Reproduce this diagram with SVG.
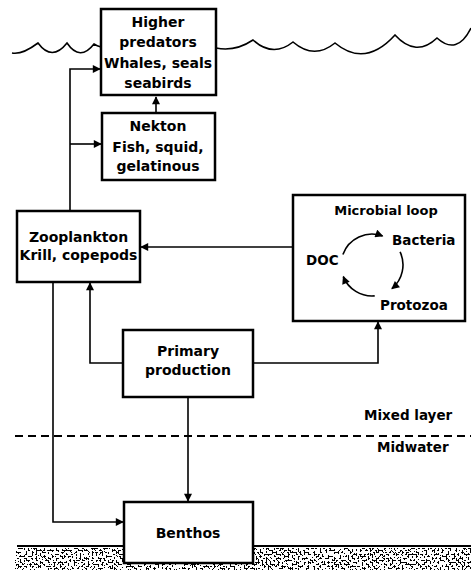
<svg xmlns="http://www.w3.org/2000/svg" width="471" height="570" viewBox="0 0 471 570">
<style>
.box{fill:#fff;stroke:#000;stroke-width:2.5}
.ln{fill:none;stroke:#000;stroke-width:1.6}
.t{font-family:"DejaVu Sans","Liberation Sans",sans-serif;font-weight:bold;font-size:14px;fill:#000;text-anchor:middle}
.s{font-family:"DejaVu Sans","Liberation Sans",sans-serif;font-weight:bold;font-size:13.5px;fill:#000}
</style>
<defs>
<marker id="ah" viewBox="0 0 10 10" refX="9" refY="5" markerWidth="9" markerHeight="8" markerUnits="userSpaceOnUse" orient="auto">
<path d="M0,0 L10,5 L0,10 z" fill="#000"/>
</marker>
<filter id="sand" x="0" y="0" width="1" height="1" filterUnits="objectBoundingBox" color-interpolation-filters="sRGB">
<feTurbulence type="fractalNoise" baseFrequency="0.5" numOctaves="2" seed="7" result="n"/>
<feColorMatrix in="n" type="matrix" values="0 0 0 0 0  0 0 0 0 0  0 0 0 0 0  -4 0 0 0 2.35" result="a"/>
<feComponentTransfer in="a" result="b"><feFuncA type="discrete" tableValues="0 1"/></feComponentTransfer>
<feComposite in="b" in2="SourceAlpha" operator="in"/>
</filter>
</defs>
<rect width="471" height="570" fill="#fff"/>

<g id="surface">
<path class="ln" d="M12,53 Q22,55 38,43 Q52,62 67,43 Q80,62 94,44 Q97,46 101,47"/>
<path class="ln" d="M216,48 Q235,52 253,40 Q273,58 293,42 Q314,60 335,43 Q365,68 395,35 Q416,58 437,38 Q457,56 471,28"/>
</g>

<g id="layers">
<line x1="15" y1="436" x2="471" y2="436" stroke="#000" stroke-width="2" stroke-dasharray="8,5"/>
<text class="s" x="364" y="420">Mixed layer</text>
<text class="s" x="377" y="452">Midwater</text>
</g>

<g id="seafloor">
<rect x="15" y="548" width="456" height="22" fill="#000" filter="url(#sand)"/>
<line x1="17" y1="546" x2="471" y2="546" stroke="#000" stroke-width="2"/>
</g>

<g id="connectors">
<line class="ln" x1="156" y1="113" x2="156" y2="97" marker-end="url(#ah)"/>
<polyline class="ln" points="70,211 70,69 100,69" marker-end="url(#ah)"/>
<polyline class="ln" points="70,144 101,144" marker-end="url(#ah)"/>
<line class="ln" x1="293" y1="247" x2="141" y2="247" marker-end="url(#ah)"/>
<polyline class="ln" points="123,363 90,363 90,283" marker-end="url(#ah)"/>
<polyline class="ln" points="253,363 378,363 378,322" marker-end="url(#ah)"/>
<polyline class="ln" points="53,282 53,522 123,522" marker-end="url(#ah)"/>
<line class="ln" x1="188" y1="397" x2="188" y2="501" marker-end="url(#ah)"/>
</g>

<g id="higher-predators">
<rect class="box" x="101" y="9" width="115" height="86"/>
<text class="t" x="158" y="27">Higher</text>
<text class="t" x="158" y="47">predators</text>
<text class="t" x="158" y="68">Whales, seals</text>
<text class="t" x="158" y="88">seabirds</text>
</g>

<g id="nekton">
<rect class="box" x="102" y="113" width="113" height="67"/>
<text class="t" x="158" y="131">Nekton</text>
<text class="t" x="158" y="152">Fish, squid,</text>
<text class="t" x="158" y="171">gelatinous</text>
</g>

<g id="zooplankton">
<rect class="box" x="17" y="211" width="123" height="71"/>
<text class="t" x="78.5" y="242">Zooplankton</text>
<text class="t" x="78.5" y="260">Krill, copepods</text>
</g>

<g id="microbial-loop">
<rect class="box" x="293" y="195" width="172" height="126"/>
<text class="t" x="386" y="215" style="font-size:13px">Microbial loop</text>
<text class="s" x="392" y="245">Bacteria</text>
<text class="s" x="306" y="265">DOC</text>
<text class="s" x="380" y="310">Protozoa</text>
<path class="ln" d="M342.9,254.4 A31,31 0 0,1 382.6,235.9" marker-end="url(#ah)"/>
<path class="ln" d="M400.1,251.9 A31,31 0 0,1 391.9,288.7" marker-end="url(#ah)"/>
<path class="ln" d="M374.7,295.9 A31,31 0 0,1 343.3,276.6" marker-end="url(#ah)"/>
</g>

<g id="primary-production">
<rect class="box" x="123" y="330" width="130" height="67"/>
<text class="t" x="188" y="356">Primary</text>
<text class="t" x="188" y="375">production</text>
</g>

<g id="benthos">
<rect class="box" x="124" y="502" width="129" height="61"/>
<text class="t" x="188" y="538">Benthos</text>
</g>
</svg>
